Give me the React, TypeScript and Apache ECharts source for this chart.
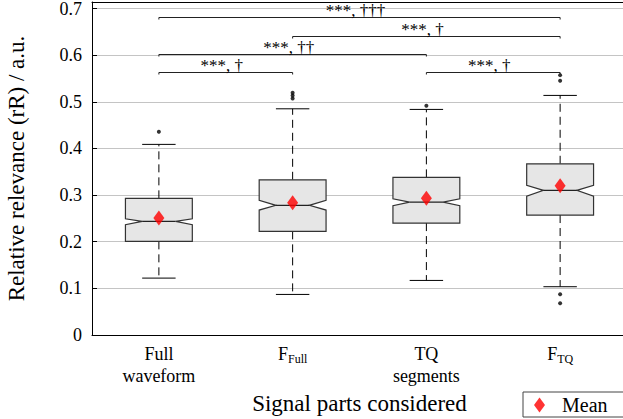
import React, { useEffect, useRef } from "react";
import * as echarts from "echarts";

const FONT = "Liberation Serif";

// categories
const categoryKeys = ["Full\nwaveform", "F_Full", "TQ\nsegments", "F_TQ"];
const categoryMain = ["Full\nwaveform", "F", "TQ\nsegments", "F"];
const categorySub = ["", "Full", "", "TQ"];

// box statistics
const lowerWhisker = [0.122, 0.087, 0.117, 0.1035];
const q1 = [0.2008, 0.2222, 0.24, 0.2572];
const notchLow = [0.2364, 0.2679, 0.2771, 0.2979];
const median = [0.2437, 0.278, 0.285, 0.3101];
const notchHigh = [0.2493, 0.2887, 0.2921, 0.3208];
const q3 = [0.293, 0.3328, 0.338, 0.3671];
const upperWhisker = [0.4087, 0.485, 0.4837, 0.5137];
const means = [0.2508, 0.2835, 0.293, 0.32];

// outliers: [category index, value]
const outlierCat = [0, 1, 1, 1, 2, 3, 3, 3, 3];
const outlierVal = [0.4357, 0.5073, 0.5137, 0.5193, 0.4914, 0.545, 0.5572, 0.0872, 0.0679];

// significance brackets
const bracketFrom = [0, 1, 0, 0, 2];
const bracketTo = [3, 3, 2, 1, 3];
const bracketY = [0.682, 0.642, 0.603, 0.5647, 0.5647];
const bracketLabels = ["***, \u2020\u2020\u2020", "***, \u2020", "***, \u2020\u2020", "***, \u2020", "***, \u2020"];

// y axis ticks
const yMin = 0;
const yMax = 0.714;
const yInterval = 0.1;

export default function App() {
  const ref = useRef<HTMLDivElement>(null);
  useEffect(() => {
    if (!ref.current) return;
    const chart = echarts.init(ref.current, null, { renderer: "svg" });
    const boxData = categoryKeys.map((_, i) => [
      i,
      lowerWhisker[i],
      q1[i],
      notchLow[i],
      median[i],
      notchHigh[i],
      q3[i],
      upperWhisker[i],
    ]);
    const bracketData = bracketFrom.map((f, i) => [f, bracketTo[i], bracketY[i]]);
    const outlierData = outlierCat.map((c, i) => [c, outlierVal[i]]);
    const meanData = means.map((m, i) => [i, m]);

    const option: any = {
      animation: false,
      backgroundColor: "#fff",
      textStyle: { fontFamily: FONT },
      grid: { left: 92, right: -4, top: 2, bottom: 84, outerBoundsMode: "none" },
      legend: {
        data: [{ name: "Mean", icon: "diamond" }],
        left: 523,
        top: 392,
        itemWidth: 11,
        itemHeight: 15,
        padding: [3, 30, 2, 11],
        borderColor: "#444",
        borderWidth: 1,
        backgroundColor: "#fff",
        textStyle: { fontSize: 20, fontFamily: FONT, color: "#000", padding: [0, 0, 0, 12] },
      },
      xAxis: [
        {
          type: "category",
          data: categoryKeys,
          position: "bottom",
          name: "Signal parts considered",
          nameLocation: "middle",
          nameGap: 56,
          nameTextStyle: { fontSize: 23, fontFamily: FONT, color: "#000" },
          axisLine: { lineStyle: { color: "#000", width: 1 } },
          axisTick: { inside: true, alignWithLabel: true, length: 5, lineStyle: { color: "#000" } },
          axisLabel: {
            margin: 8,
            fontSize: 18,
            lineHeight: 22,
            fontFamily: FONT,
            color: "#000",
            formatter: (_v: string, idx: number) =>
              categorySub[idx]
                ? `{m|${categoryMain[idx]}}{s|${categorySub[idx]}}`
                : categoryMain[idx],
            rich: {
              m: { fontSize: 18, fontFamily: FONT, color: "#000", lineHeight: 22 },
              s: { fontSize: 12, fontFamily: FONT, color: "#000", lineHeight: 22, verticalAlign: "bottom" },
            },
          },
          splitLine: { show: false },
        },
        {
          type: "category",
          data: categoryKeys,
          position: "top",
          axisLine: { lineStyle: { color: "#000", width: 1 } },
          axisTick: { inside: true, alignWithLabel: true, length: 5, lineStyle: { color: "#000" } },
          axisLabel: { show: false },
          splitLine: { show: false },
        },
      ],
      yAxis: {
        type: "value",
        min: yMin,
        max: yMax,
        interval: yInterval,
        name: "Relative relevance (rR) / a.u.",
        nameLocation: "middle",
        nameGap: 64,
        nameTextStyle: { fontSize: 23, fontFamily: FONT, color: "#000" },
        axisLine: { show: true, lineStyle: { color: "#000", width: 1 } },
        axisTick: { show: true, inside: true, length: 5, lineStyle: { color: "#000" } },
        axisLabel: {
          margin: 10,
          fontSize: 18,
          fontFamily: FONT,
          color: "#000",
          showMaxLabel: false,
          formatter: (v: number) => {
            const r = Math.round(v * 10) / 10;
            return Math.abs(r - v) < 1e-6 ? String(r) : "";
          },
        },
        splitLine: { show: true, lineStyle: { color: "#c4c4c4", width: 1 } },
      },
      series: [
        {
          type: "custom",
          name: "boxes",
          z: 3,
          encode: { x: 0, y: [1, 2, 3, 4, 5, 6, 7] },
          data: boxData,
          renderItem: (params: any, api: any) => {
            const i = api.value(0);
            const bw = api.size([1, 0])[0];
            const half = bw * 0.25;
            const inner = half * 0.5;
            const capHalf = bw * 0.125;
            const cx = api.coord([i, 0])[0];
            const y = (v: number) => api.coord([i, v])[1];
            const lw = y(api.value(1));
            const bq1 = y(api.value(2));
            const nl = y(api.value(3));
            const md = y(api.value(4));
            const nh = y(api.value(5));
            const bq3 = y(api.value(6));
            const uw = y(api.value(7));
            const dash = { stroke: "#000", lineWidth: 1, lineDash: [8, 5] };
            const solid = { stroke: "#000", lineWidth: 1 };
            return {
              type: "group",
              children: [
                { type: "line", shape: { x1: cx, y1: bq3, x2: cx, y2: uw }, style: dash },
                { type: "line", shape: { x1: cx, y1: bq1, x2: cx, y2: lw }, style: dash },
                { type: "line", shape: { x1: cx - capHalf, y1: uw, x2: cx + capHalf, y2: uw }, style: solid },
                { type: "line", shape: { x1: cx - capHalf, y1: lw, x2: cx + capHalf, y2: lw }, style: solid },
                {
                  type: "polygon",
                  shape: {
                    points: [
                      [cx - half, bq3],
                      [cx + half, bq3],
                      [cx + half, nh],
                      [cx + inner, md],
                      [cx + half, nl],
                      [cx + half, bq1],
                      [cx - half, bq1],
                      [cx - half, nl],
                      [cx - inner, md],
                      [cx - half, nh],
                    ],
                  },
                  style: { fill: "#e6e6e6", stroke: "#333", lineWidth: 1.2 },
                },
                {
                  type: "line",
                  shape: { x1: cx - inner, y1: md, x2: cx + inner, y2: md },
                  style: { stroke: "#222", lineWidth: 1.4 },
                },
              ],
            };
          },
        },
        {
          type: "scatter",
          name: "outliers",
          z: 4,
          symbol: "circle",
          symbolSize: 4,
          itemStyle: { color: "#000" },
          data: outlierData,
        },
        {
          type: "scatter",
          name: "Mean",
          z: 5,
          symbol: "diamond",
          symbolSize: [11, 15],
          itemStyle: { color: "#ff0000" },
          data: meanData,
        },
        {
          type: "custom",
          name: "brackets",
          z: 6,
          encode: { x: [0, 1], y: 2 },
          data: bracketData,
          renderItem: (params: any, api: any) => {
            const a = api.coord([api.value(0), api.value(2)]);
            const b = api.coord([api.value(1), api.value(2)]);
            const yy = Math.round(a[1]) + 0.5;
            const st = { stroke: "#222", lineWidth: 1 };
            return {
              type: "group",
              children: [
                { type: "line", shape: { x1: a[0], y1: yy, x2: b[0], y2: yy }, style: st },
                { type: "line", shape: { x1: a[0], y1: yy, x2: a[0], y2: yy + 2 }, style: st },
                { type: "line", shape: { x1: b[0], y1: yy, x2: b[0], y2: yy + 2 }, style: st },
                {
                  type: "text",
                  x: (a[0] + b[0]) / 2 - 4,
                  y: yy + 1,
                  style: {
                    text: bracketLabels[params.dataIndex],
                    fontSize: 17,
                    fontFamily: FONT,
                    fill: "#000",
                    align: "center",
                    verticalAlign: "bottom",
                  },
                },
              ],
            };
          },
        },
      ],
    };
    chart.setOption(option);
    return () => chart.dispose();
  }, []);
  return (
    <div
      ref={ref}
      style={{ position: "fixed", left: 0, top: 0, width: 623, height: 419, overflow: "hidden" }}
    />
  );
}
